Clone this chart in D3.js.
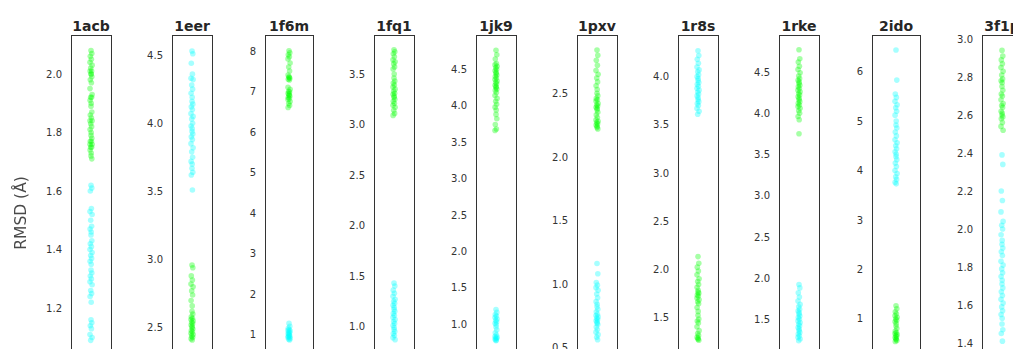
<!DOCTYPE html>
<html><head><meta charset="utf-8">
<script src="https://cdn.jsdelivr.net/npm/d3@7"></script>
<style>body{margin:0;background:#fff}svg{display:block}</style>
</head><body>
<script>
// ---- data ----
const categories = ["1acb","1eer","1f6m","1fq1","1jk9","1pxv","1r8s","1rke","2ido","3f1p"];
const yDomains = [[1.04,2.133],[2.30,4.647],[0.49,8.39],[0.718,3.886],[0.575,4.971],[0.44,2.959],[1.107,4.433],[1.066,4.949],[0.265,6.743],[1.337,3.021]];
const tickLabels = [
  ["1.2","1.4","1.6","1.8","2.0"],
  ["2.5","3.0","3.5","4.0","4.5"],
  ["1","2","3","4","5","6","7","8"],
  ["1.0","1.5","2.0","2.5","3.0","3.5"],
  ["1.0","1.5","2.0","2.5","3.0","3.5","4.0","4.5"],
  ["0.5","1.0","1.5","2.0","2.5"],
  ["1.5","2.0","2.5","3.0","3.5","4.0"],
  ["1.5","2.0","2.5","3.0","3.5","4.0","4.5"],
  ["1","2","3","4","5","6"],
  ["1.4","1.6","1.8","2.0","2.2","2.4","2.6","2.8","3.0"]
];
const greenValues = [
  [2.08,2.07,2.06,2.05,2.04,2.03,2.02,2.01,2.01,2.00,2.00,1.99,1.98,1.97,1.95,1.93,1.92,1.92,1.91,1.90,1.89,1.87,1.86,1.85,1.84,1.84,1.83,1.82,1.81,1.80,1.79,1.78,1.77,1.77,1.76,1.76,1.75,1.75,1.74,1.73,1.72,1.71],
  [2.96,2.94,2.88,2.85,2.82,2.80,2.77,2.74,2.70,2.66,2.62,2.60,2.58,2.57,2.56,2.55,2.54,2.53,2.52,2.51,2.50,2.49,2.48,2.47,2.46,2.45,2.44,2.43,2.42,2.41],
  [8.0,7.95,7.9,7.85,7.8,7.7,7.6,7.5,7.4,7.36,7.34,7.32,7.3,7.28,7.1,7.05,7.0,6.98,6.95,6.93,6.9,6.88,6.85,6.82,6.8,6.75,6.7,6.65,6.6],
  [3.74,3.72,3.70,3.67,3.64,3.62,3.60,3.57,3.55,3.50,3.46,3.43,3.41,3.39,3.37,3.35,3.33,3.31,3.30,3.28,3.27,3.25,3.23,3.21,3.19,3.17,3.14,3.11,3.09],
  [4.76,4.70,4.64,4.58,4.56,4.54,4.52,4.50,4.48,4.46,4.44,4.42,4.40,4.38,4.36,4.34,4.32,4.30,4.28,4.26,4.25,4.23,4.21,4.18,4.14,4.10,4.06,4.02,3.98,3.94,3.88,3.82,3.74,3.68,3.66],
  [2.84,2.80,2.76,2.72,2.68,2.65,2.62,2.59,2.56,2.53,2.50,2.48,2.46,2.45,2.44,2.42,2.41,2.40,2.39,2.38,2.37,2.35,2.33,2.31,2.29,2.28,2.27,2.26,2.25,2.24,2.23,2.22],
  [2.13,2.06,2.02,1.98,1.94,1.90,1.87,1.84,1.81,1.78,1.76,1.75,1.73,1.72,1.70,1.68,1.66,1.64,1.60,1.56,1.52,1.48,1.46,1.44,1.40,1.36,1.33,1.31,1.29,1.28,1.27,1.26],
  [4.77,4.66,4.62,4.57,4.53,4.49,4.45,4.42,4.40,4.38,4.36,4.34,4.32,4.30,4.28,4.26,4.24,4.22,4.20,4.18,4.16,4.14,4.12,4.10,4.08,4.06,4.03,4.00,3.96,3.92,3.75],
  [1.26,1.20,1.14,1.10,1.06,1.03,1.00,0.97,0.94,0.90,0.85,0.80,0.75,0.72,0.70,0.68,0.66,0.64,0.62,0.60,0.58,0.56,0.54],
  [2.94,2.91,2.89,2.87,2.85,2.83,2.81,2.79,2.78,2.77,2.75,2.73,2.71,2.70,2.68,2.66,2.65,2.64,2.62,2.61,2.60,2.59,2.58,2.56,2.54,2.52]
];
const cyanValues = [
  [1.62,1.61,1.60,1.54,1.53,1.52,1.50,1.48,1.47,1.46,1.45,1.43,1.42,1.41,1.40,1.39,1.38,1.37,1.36,1.35,1.33,1.32,1.31,1.30,1.29,1.28,1.26,1.25,1.24,1.22,1.16,1.15,1.14,1.13,1.11,1.10,1.09],
  [4.53,4.51,4.44,4.36,4.33,4.32,4.28,4.25,4.22,4.19,4.16,4.14,4.12,4.10,4.07,4.05,4.03,4.00,3.98,3.96,3.94,3.92,3.90,3.88,3.85,3.82,3.79,3.75,3.72,3.70,3.67,3.64,3.62,3.51],
  [1.27,1.2,1.15,1.12,1.1,1.08,1.06,1.04,1.02,1.0,0.98,0.96,0.95,0.93,0.92,0.9,0.88,0.86],
  [1.43,1.40,1.36,1.33,1.30,1.27,1.25,1.23,1.21,1.19,1.17,1.15,1.13,1.11,1.09,1.07,1.05,1.03,1.01,0.99,0.97,0.95,0.93,0.91,0.89,0.87],
  [1.20,1.16,1.13,1.11,1.09,1.07,1.05,1.03,1.01,0.99,0.96,0.92,0.88,0.85,0.83,0.82,0.81,0.80,0.79,0.78,0.77],
  [1.16,1.08,1.01,0.99,0.97,0.95,0.92,0.89,0.86,0.84,0.82,0.80,0.78,0.76,0.75,0.74,0.73,0.72,0.71,0.70,0.69,0.68,0.66,0.64,0.62,0.60,0.58,0.56],
  [4.27,4.22,4.18,4.14,4.10,4.07,4.05,4.02,4.00,3.98,3.96,3.94,3.92,3.90,3.88,3.86,3.84,3.82,3.80,3.78,3.76,3.74,3.72,3.70,3.67,3.64,3.61],
  [1.92,1.88,1.82,1.77,1.72,1.68,1.65,1.62,1.60,1.58,1.56,1.54,1.52,1.50,1.48,1.46,1.44,1.42,1.40,1.38,1.36,1.34,1.32,1.30,1.28,1.26,1.24],
  [6.44,5.83,5.55,5.48,5.40,5.33,5.27,5.20,5.12,5.00,4.92,4.86,4.78,4.70,4.62,4.56,4.50,4.44,4.38,4.33,4.28,4.22,4.15,4.08,4.00,3.94,3.87,3.82,3.76,3.73],
  [2.39,2.34,2.20,2.15,2.09,2.04,2.02,2.00,1.97,1.94,1.92,1.90,1.88,1.86,1.83,1.81,1.79,1.77,1.75,1.73,1.71,1.69,1.67,1.65,1.63,1.61,1.59,1.57,1.55,1.53,1.50,1.47,1.45,1.41]
];

// ---- layout ----
const W = 1013, H = 349;
const panelLeft = [71,172,265,374,476,577,678,779,872,982];
const panelWidth = [40,40,48,40,40,40,40,40,48,40];
const plotTop = 35, plotBottom = 355;

const svg = d3.select("body").append("svg").attr("width", W).attr("height", H)
  .style("font-family","'DejaVu Sans', sans-serif");

const defs = svg.append("defs");
defs.append("filter").attr("id","soft").append("feGaussianBlur").attr("stdDeviation",0.6);

svg.append("text")
  .attr("transform","translate(26,213) rotate(-90)")
  .attr("text-anchor","middle")
  .attr("font-size",15.5).attr("fill","#4a4a4a")
  .attr("filter","url(#soft)")
  .text("RMSD (Å)");

const jit = [0,0.8,-0.7,0.4,-1.0,1.1,-0.3,0.6,-0.9,0.2];

categories.forEach((cat, i) => {
  const x0 = panelLeft[i], w = panelWidth[i], cx = x0 + w / 2;
  const y = d3.scaleLinear().domain(yDomains[i]).range([plotBottom, plotTop]);
  const g = svg.append("g");

  const tickVals = tickLabels[i].map(Number);
  const axis = d3.axisLeft(y).tickValues(tickVals).tickSize(0).tickPadding(9)
    .tickFormat((d, k) => tickLabels[i][k]);
  const ax = g.append("g").attr("transform", `translate(${x0},0)`).call(axis);
  ax.select(".domain").remove();
  ax.selectAll("text").attr("font-size", 10).attr("fill", "#333")
    .style("font-family","'DejaVu Sans', sans-serif");

  const drawPts = (vals, color) => {
    g.selectAll(null).data(vals).enter().append("circle")
      .attr("cx", (d, k) => cx + jit[k % jit.length])
      .attr("cy", d => y(d))
      .attr("r", 2.8)
      .attr("fill", color)
      .attr("fill-opacity", 0.35);
  };
  drawPts(greenValues[i], "#00ff00");
  drawPts(cyanValues[i], "#00ffff");

  g.append("rect").attr("x", x0 + 0.5).attr("y", plotTop + 0.5)
    .attr("width", w).attr("height", plotBottom - plotTop)
    .attr("fill", "none").attr("stroke", "#333").attr("stroke-width", 1);

  g.append("text").attr("x", cx).attr("y", 31).attr("text-anchor", "middle")
    .attr("font-size", 14).attr("font-weight", "bold").attr("fill", "#262626")
    .text(cat);
});
</script>
</body></html>
